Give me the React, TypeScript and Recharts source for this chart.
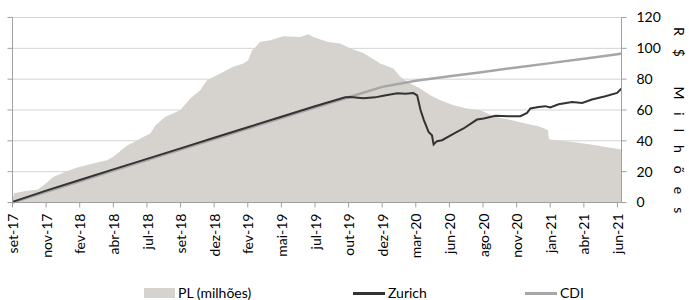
import React from 'react';
import { ComposedChart, Area, Line, XAxis, YAxis, CartesianGrid } from 'recharts';

const FONT = 'Lato, "Open Sans", sans-serif';

// X positions are expressed in tick intervals (0 = set-17 ... 18 = jun-21)
const tickLabels = [
  'set-17', 'nov-17', 'fev-18', 'abr-18', 'jul-18', 'set-18', 'dez-18', 'fev-19', 'mai-19', 'jul-19',
  'out-19', 'dez-19', 'mar-20', 'jun-20', 'ago-20', 'nov-20', 'jan-21', 'abr-21', 'jun-21',
];
const yTicks = [0, 20, 40, 60, 80, 100, 120];

const plX = [
  0, 0.05, 0.38, 0.76, 0.97, 1.21, 1.42, 1.63, 1.93, 2.31,
  2.81, 3.0, 3.12, 3.41, 3.65, 3.89, 4.1, 4.25, 4.54, 4.99,
  5.29, 5.59, 5.79, 6.18, 6.57, 6.87, 7.01, 7.13, 7.22, 7.37,
  7.67, 8.06, 8.56, 8.8, 8.95, 9.36, 9.75, 10.05, 10.44, 10.79,
  10.94, 11.33, 11.54, 11.84, 12.13, 12.43, 12.73, 13.12, 13.52, 13.92,
  14.37, 14.86, 15.26, 15.65, 15.93, 15.96, 16.35, 16.84, 17.34, 17.73,
  18.12,
];
const plValues = [
  3, 6, 7.5, 8.5, 12, 16.5, 18.5, 20.5, 22.7, 24.8,
  27.4, 29.6, 31.8, 37, 39.5, 42.5, 44.7, 50, 55.5, 59.9,
  67.4, 73, 79.3, 83.6, 88, 90.1, 92.3, 98.8, 100.5, 104.2,
  105.3, 107.8, 107.4, 109.1, 107.4, 104.2, 103.1, 99.9, 97, 92.3,
  90.1, 86.9, 81.5, 77.2, 73.9, 69.6, 66.3, 63.1, 61, 59.9,
  55.5, 53.4, 51.2, 49.5, 47, 41, 40, 38.7, 37.2, 35.7,
  34.4,
];

const cdiX = [0, 1, 2, 3, 4, 5, 6, 7, 8, 9, 10, 11, 12, 13, 14, 15, 16, 17, 18, 18.12];
const cdiValues = [0, 6.9, 13.8, 20.7, 27.5, 34.3, 41.2, 48.0, 54.8, 61.6, 68.3, 75.0, 79.0, 81.9, 84.7, 87.6, 90.4, 93.3, 96.2, 96.6];

const zurichX = [
  0, 1, 2, 3, 4, 5, 6, 7, 8, 9,
  9.9, 10.05, 10.44, 10.79, 11.03, 11.45, 11.69, 11.93, 12.04, 12.14,
  12.24, 12.38, 12.48, 12.53, 12.63, 12.78, 13.13, 13.42, 13.82, 14.02,
  14.37, 14.75, 15.11, 15.31, 15.41, 15.65, 15.85, 16.0, 16.25, 16.65,
  16.95, 17.24, 17.64, 17.99, 18.12,
];
const zurichValues = [
  0.4, 7.7, 14.6, 21.5, 28.3, 35.1, 42.0, 48.8, 55.6, 62.4,
  68.3, 68.5, 67.6, 68.2, 69.2, 70.8, 70.6, 71.0, 69.5, 60,
  53.4, 45.8, 43.6, 37.6, 39.8, 40.4, 44.7, 48, 53.8, 54.5,
  56.3, 56, 56, 58.1, 61, 62, 62.5, 61.6, 63.7, 65.2,
  64.6, 66.8, 68.9, 71.1, 73.9,
];

const seriesNames = { pl: 'PL (milhões)', zurich: 'Zurich', cdi: 'CDI' };
const axisTitle = 'R$ Milhões';

const PL_COLOR = '#d6d2cd';
const ZURICH_COLOR = '#333333';
const CDI_COLOR = '#a6a6a6';
const AXIS_COLOR = '#a0a0a0';
const GRID_COLOR = '#d4d4d4';

const plData = plX.map((x, i) => ({ x, pl: plValues[i] }));
const cdiData = cdiX.map((x, i) => ({ x, cdi: cdiValues[i] }));
const zurichData = zurichX.map((x, i) => ({ x, zurich: zurichValues[i] }));
const xTicks = tickLabels.map((_, i) => i);

const XTick = (props: any) => {
  const { x, y, payload } = props;
  return (
    <g transform={`translate(${x},${y})`}>
      <text transform="rotate(-90)" textAnchor="end" dy="0.4em" fill="#000" fontSize={14} fontFamily={FONT}>
        {tickLabels[payload.value]}
      </text>
    </g>
  );
};

export default function App() {
  return (
    <div style={{ position: 'absolute', left: 0, top: 0, width: 689, height: 300, background: '#fff', fontFamily: FONT }}>
      <ComposedChart width={689} height={300} margin={{ top: 17.5, right: 27.5, bottom: 37.5, left: 0.5 }}>
        <CartesianGrid vertical={false} stroke={GRID_COLOR} yAxisId="right" horizontalValues={yTicks} />
        <XAxis
          dataKey="x"
          type="number"
          domain={[0, 18.12]}
          ticks={xTicks}
          interval={0}
          height={60}
          tickSize={5}
          tickMargin={6}
          stroke={AXIS_COLOR}
          tick={<XTick />}
          allowDataOverflow
        />
        <YAxis
          yAxisId="left"
          orientation="left"
          domain={[0, 120]}
          ticks={yTicks}
          width={12}
          tickSize={5}
          stroke={AXIS_COLOR}
          tickFormatter={() => ''}
        />
        <YAxis
          yAxisId="right"
          orientation="right"
          domain={[0, 120]}
          ticks={yTicks}
          width={40}
          tickSize={5}
          tickMargin={10}
          stroke={AXIS_COLOR}
          tick={{ fill: '#000', fontSize: 14, fontFamily: FONT }}
        />
        <Area
          yAxisId="left"
          data={plData}
          dataKey="pl"
          name={seriesNames.pl}
          type="linear"
          stroke="none"
          fill={PL_COLOR}
          fillOpacity={1}
          isAnimationActive={false}
          dot={false}
          activeDot={false}
        />
        <Line
          yAxisId="right"
          data={cdiData}
          dataKey="cdi"
          name={seriesNames.cdi}
          type="linear"
          stroke={CDI_COLOR}
          strokeWidth={2.5}
          dot={false}
          activeDot={false}
          isAnimationActive={false}
        />
        <Line
          yAxisId="right"
          data={zurichData}
          dataKey="zurich"
          name={seriesNames.zurich}
          type="linear"
          stroke={ZURICH_COLOR}
          strokeWidth={2}
          dot={false}
          activeDot={false}
          isAnimationActive={false}
        />
      </ComposedChart>

      <div
        style={{
          position: 'absolute',
          left: 670,
          top: 27,
          writingMode: 'vertical-rl',
          fontSize: 14,
          letterSpacing: 13,
          color: '#000',
          fontFamily: FONT,
          lineHeight: '18px',
          whiteSpace: 'pre',
        }}
      >
        {axisTitle}
      </div>

      <div style={{ position: 'absolute', left: 144, top: 288, width: 31, height: 10, background: PL_COLOR }} />
      <div style={{ position: 'absolute', left: 178, top: 284, fontSize: 14, lineHeight: '18px', color: '#000', whiteSpace: 'nowrap' }}>
        {seriesNames.pl}
      </div>
      <div style={{ position: 'absolute', left: 353, top: 292, width: 32, height: 2.5, background: ZURICH_COLOR }} />
      <div style={{ position: 'absolute', left: 388, top: 284, fontSize: 14, lineHeight: '18px', color: '#000', whiteSpace: 'nowrap' }}>
        {seriesNames.zurich}
      </div>
      <div style={{ position: 'absolute', left: 525, top: 292, width: 32, height: 2.5, background: CDI_COLOR }} />
      <div style={{ position: 'absolute', left: 560, top: 284, fontSize: 14, lineHeight: '18px', color: '#000', whiteSpace: 'nowrap' }}>
        {seriesNames.cdi}
      </div>
    </div>
  );
}
